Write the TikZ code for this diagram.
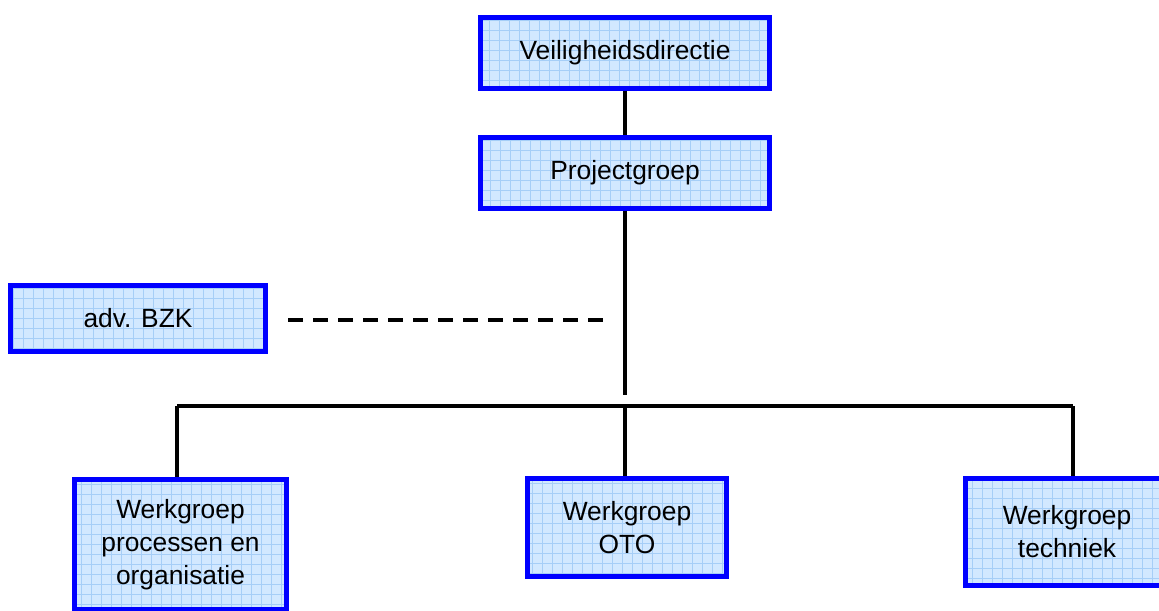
\documentclass[tikz,border=0pt]{standalone}
\usepackage{fontspec}
\setmainfont{Liberation Sans}
\usepackage{xcolor}
\usepackage{tikz}
\usetikzlibrary{calc}
\definecolor{boxblue}{HTML}{0000FF}
\definecolor{boxfill}{HTML}{D2E8FF}
\definecolor{gridblue}{HTML}{A6CEF7}
\tikzset{
  unit/.style={draw=boxblue, line width=3pt, fill=boxfill, align=center, inner sep=0pt,
    font=\fontsize{15}{18.8}\selectfont,
    path picture={\draw[gridblue, line width=.35pt, step=.2cm]
      (path picture bounding box.south west) grid (path picture bounding box.north east);}},
  link/.style={line width=2pt, color=black},
  advice/.style={line width=2pt, color=black, dash pattern=on .3cm off .2cm}
}
\begin{document}
\begin{tikzpicture}[x=1cm,y=1cm]
  \useasboundingbox (0,0) rectangle (23.18,-12.2);

  \node[unit,minimum width=5.78cm,minimum height=1.42cm] (vd) at (12.5,-1.06) {Veiligheidsdirectie};
  \node[unit,minimum width=5.78cm,minimum height=1.42cm] (pg) at (12.5,-3.46) {Projectgroep};
  \node[unit,minimum width=5.1cm,minimum height=1.32cm] (bzk) at (2.76,-6.37) {adv. BZK};

  \node[unit,minimum width=4.24cm,minimum height=2.6cm] (wpo) at (3.61,-10.89) {Werkgroep\\processen en\\organisatie};
  \node[unit,minimum width=3.98cm,minimum height=1.96cm] (oto) at (12.54,-10.55) {Werkgroep\\OTO};
  \node[unit,minimum width=4.06cm,minimum height=2.14cm] (tech) at (21.34,-10.64) {Werkgroep\\techniek};

  \coordinate (hub) at (12.5,-7.9);
  \coordinate (busL) at (3.54,-8.12);
  \coordinate (busM) at (12.5,-8.12);
  \coordinate (busR) at (21.46,-8.12);
  \coordinate (dashA) at (5.76,-6.4);
  \coordinate (dashB) at (12.14,-6.4);

  \draw[link] (vd.south) -- (pg.north);
  \draw[link] (pg.south) -- (hub);
  \draw[link] (busL) -- (busR);
  \foreach \b/\n in {busL/wpo,busM/oto,busR/tech}{
    \draw[link] (\b) -- (\b |- \n.north);
  }
  \draw[advice] (dashA) -- (dashB);
\end{tikzpicture}
\end{document}
